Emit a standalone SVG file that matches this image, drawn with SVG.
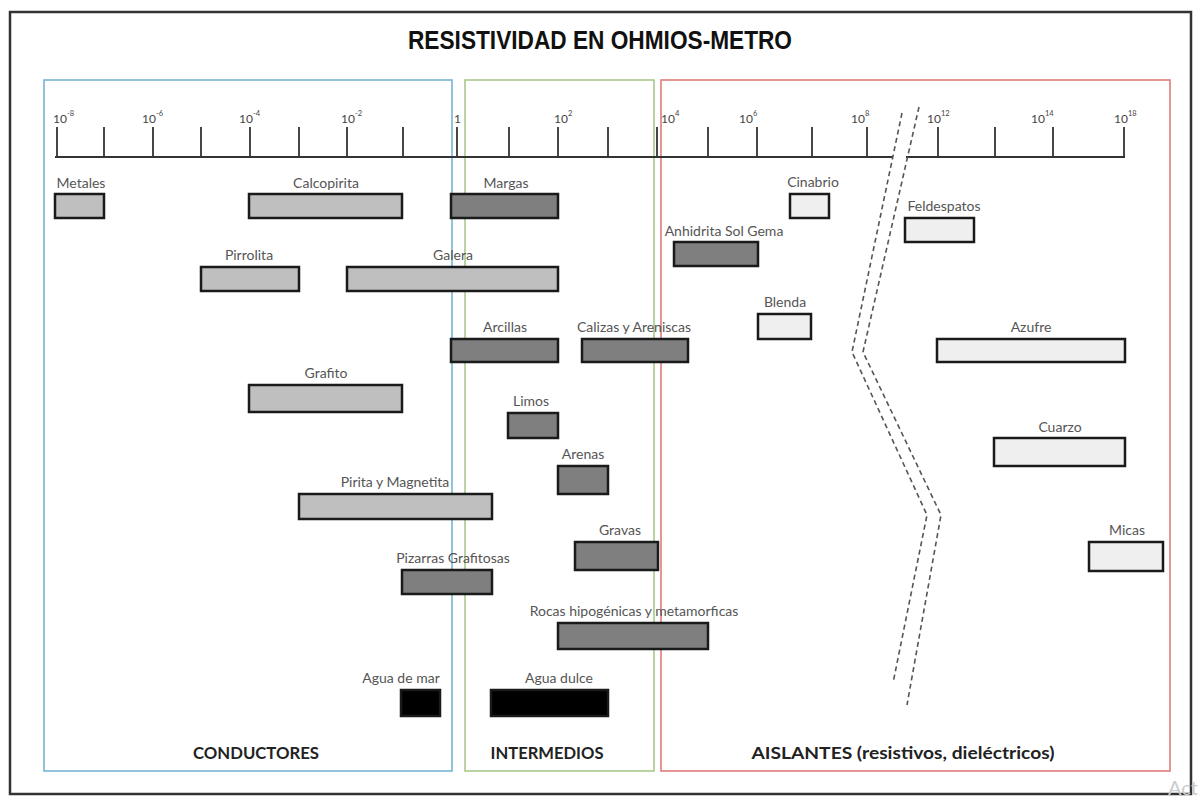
<svg xmlns="http://www.w3.org/2000/svg" width="1200" height="797" viewBox="0 0 1200 797">
<style>
.frame{fill:#fff;stroke:#333;stroke-width:2.5}
.panel{fill:none;stroke-width:1.6}
.ax{stroke:#333;stroke-width:1.8;fill:none}
.tk{font-family:Lato,"Liberation Sans",sans-serif;font-size:12px;fill:#444}
.sup{font-size:7.5px}
.bar{stroke:#1a1a1a;stroke-width:2.5}
.c{fill:#bfbfbf}.i{fill:#7f7f7f}.a{fill:#efefef}.w{fill:#000}
.lb{font-family:Lato,"Liberation Sans",sans-serif;font-size:14px;fill:#555;text-anchor:middle}
.cat{font-family:Lato,"Liberation Sans",sans-serif;font-size:17px;font-weight:bold;fill:#222;text-anchor:middle}
.brk{fill:none;stroke:#555;stroke-width:1.6;stroke-dasharray:5 3.5}
</style>
<rect class="frame" x="10" y="12" width="1181" height="782"/>
<text x="600" y="49" font-family="'Liberation Sans',Arial,sans-serif" font-size="26" font-weight="bold" fill="#111" text-anchor="middle" textLength="384" lengthAdjust="spacingAndGlyphs">RESISTIVIDAD EN OHMIOS-METRO</text>

<g id="panels">
<rect id="conductores" class="panel" x="44" y="80" width="408" height="691" stroke="#79b4d4"/>
<rect id="intermedios" class="panel" x="465" y="80" width="189" height="691" stroke="#a9c98c"/>
<rect id="aislantes" class="panel" x="661" y="80" width="509" height="691" stroke="#e07b7b"/>
</g>

<g id="axis">
<path class="ax" d="M55,157H893M906,157H1125"/>
<path class="ax" d="M57,127V157M104,127V157M153,127V157M201,127V157M250,127V157M299,127V157M347,127V157M403,127V157M457,127V157M509,127V157M558,127V157M608,127V157M657,127V157M708,127V157M757,127V157M812,127V157M867,127V157M938,127V157M995,127V157M1053,127V157M1124,127V157"/>
<text class="tk" x="53" y="123">10<tspan class="sup" dy="-7">-8</tspan></text>
<text class="tk" x="142" y="123">10<tspan class="sup" dy="-7">-6</tspan></text>
<text class="tk" x="239" y="123">10<tspan class="sup" dy="-7">-4</tspan></text>
<text class="tk" x="341" y="123">10<tspan class="sup" dy="-7">-2</tspan></text>
<text class="tk" x="454" y="123">1</text>
<text class="tk" x="554" y="123">10<tspan class="sup" dy="-7">2</tspan></text>
<text class="tk" x="661" y="123">10<tspan class="sup" dy="-7">4</tspan></text>
<text class="tk" x="739" y="123">10<tspan class="sup" dy="-7">6</tspan></text>
<text class="tk" x="851" y="123">10<tspan class="sup" dy="-7">8</tspan></text>
<text class="tk" x="927" y="123">10<tspan class="sup" dy="-7">12</tspan></text>
<text class="tk" x="1031" y="123">10<tspan class="sup" dy="-7">14</tspan></text>
<text class="tk" x="1114" y="123">10<tspan class="sup" dy="-7">18</tspan></text>
</g>

<g id="connectors">
<path class="brk" d="M902,113L852,352L927,515L893,683"/>
<path class="brk" d="M919,107L863,352L941,515L907,705"/>
</g>

<g id="metales"><rect class="bar c" x="55" y="194" width="49" height="24"/><text class="lb" x="81" y="188" font-size="11">Metales</text></g>
<g id="calcopirita"><rect class="bar c" x="249" y="194" width="153" height="24"/><text class="lb" x="326" y="188">Calcopirita</text></g>
<g id="margas"><rect class="bar i" x="451" y="194" width="107" height="24"/><text class="lb" x="506" y="188">Margas</text></g>
<g id="cinabrio"><rect class="bar a" x="790" y="194" width="39" height="24"/><text class="lb" x="813" y="187">Cinabrio</text></g>
<g id="feldespatos"><rect class="bar a" x="905" y="218" width="69" height="24"/><text class="lb" x="944" y="211">Feldespatos</text></g>
<g id="anhidrita"><rect class="bar i" x="674" y="242" width="84" height="24"/><text class="lb" x="724" y="236">Anhidrita Sol Gema</text></g>
<g id="pirrolita"><rect class="bar c" x="201" y="267" width="98" height="24"/><text class="lb" x="249" y="260">Pirrolita</text></g>
<g id="galera"><rect class="bar c" x="347" y="267" width="211" height="24"/><text class="lb" x="453" y="260">Galera</text></g>
<g id="blenda"><rect class="bar a" x="758" y="314" width="53" height="25"/><text class="lb" x="785" y="307">Blenda</text></g>
<g id="arcillas"><rect class="bar i" x="451" y="339" width="107" height="23"/><text class="lb" x="505" y="332">Arcillas</text></g>
<g id="calizas"><rect class="bar i" x="582" y="339" width="106" height="23"/><text class="lb" x="634" y="332">Calizas y Areniscas</text></g>
<g id="azufre"><rect class="bar a" x="937" y="339" width="188" height="23"/><text class="lb" x="1031" y="332">Azufre</text></g>
<g id="grafito"><rect class="bar c" x="249" y="385" width="153" height="27"/><text class="lb" x="326" y="378">Grafito</text></g>
<g id="limos"><rect class="bar i" x="508" y="413" width="50" height="25"/><text class="lb" x="531" y="406">Limos</text></g>
<g id="cuarzo"><rect class="bar a" x="994" y="438" width="131" height="28"/><text class="lb" x="1060" y="432">Cuarzo</text></g>
<g id="arenas"><rect class="bar i" x="558" y="466" width="50" height="28"/><text class="lb" x="583" y="459">Arenas</text></g>
<g id="pirita"><rect class="bar c" x="299" y="494" width="193" height="25"/><text class="lb" x="395" y="487">Pirita y Magnetita</text></g>
<g id="gravas"><rect class="bar i" x="575" y="542" width="83" height="28"/><text class="lb" x="620" y="535">Gravas</text></g>
<g id="micas"><rect class="bar a" x="1089" y="542" width="74" height="29"/><text class="lb" x="1127" y="535">Micas</text></g>
<g id="pizarras"><rect class="bar i" x="402" y="570" width="90" height="24"/><text class="lb" x="453" y="563">Pizarras Grafitosas</text></g>
<g id="rocas"><rect class="bar i" x="558" y="623" width="150" height="26"/><text class="lb" x="634" y="616">Rocas hipogénicas y metamorficas</text></g>
<g id="agua-mar"><rect class="bar w" x="401" y="690" width="39" height="26"/><text class="lb" x="401" y="683">Agua de mar</text></g>
<g id="agua-dulce"><rect class="bar w" x="491" y="690" width="117" height="26"/><text class="lb" x="559" y="683">Agua dulce</text></g>

<g id="categorias">
<text class="cat" x="256" y="759" textLength="126" lengthAdjust="spacingAndGlyphs">CONDUCTORES</text>
<text class="cat" x="547" y="759" textLength="113" lengthAdjust="spacingAndGlyphs">INTERMEDIOS</text>
<text class="cat" x="903" y="759" textLength="303" lengthAdjust="spacingAndGlyphs">AISLANTES (resistivos, dieléctricos)</text>
</g>
<text x="1168" y="795" font-family="Lato,'Liberation Sans',sans-serif" font-size="20" fill="#ccc">Act</text>
</svg>
